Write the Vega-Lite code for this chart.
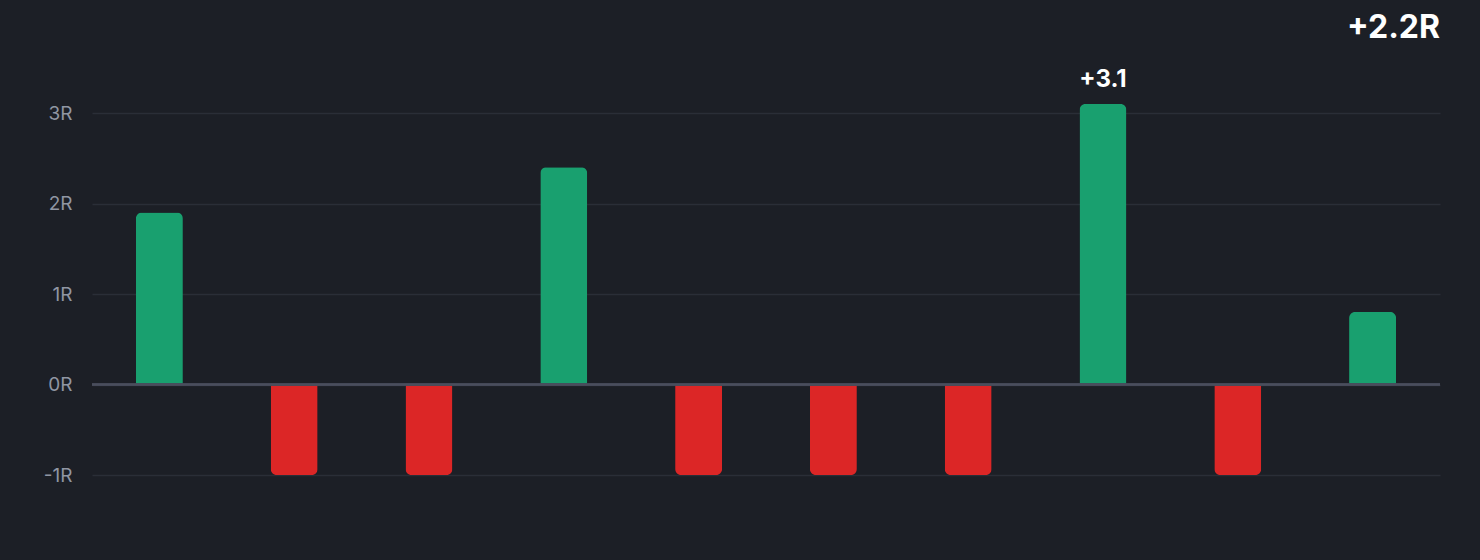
{
  "$schema": "https://vega.github.io/schema/vega-lite/v6.json",
  "width": 1348,
  "height": 371,
  "autosize": {"type": "none"},
  "padding": {"left": 92, "top": 104, "right": 40, "bottom": 85},
  "background": "#1c1f26",
  "title": {
    "text": "+2.2R",
    "anchor": "end",
    "frame": "group",
    "orient": "top",
    "offset": 23,
    "font": "Inter",
    "fontSize": 32,
    "fontWeight": "bold",
    "color": "#ffffff",
    "limit": 0
  },
  "config": {
    "view": {"stroke": null},
    "font": "Inter"
  },
  "data": {
    "values": [
      {"trade": 1, "r": 1.9},
      {"trade": 2, "r": -1},
      {"trade": 3, "r": -1},
      {"trade": 4, "r": 2.4},
      {"trade": 5, "r": -1},
      {"trade": 6, "r": -1},
      {"trade": 7, "r": -1},
      {"trade": 8, "r": 3.1},
      {"trade": 9, "r": -1},
      {"trade": 10, "r": 0.8}
    ]
  },
  "encoding": {
    "x": {
      "field": "trade",
      "type": "ordinal",
      "axis": null,
      "scale": {"paddingInner": 0, "paddingOuter": 0}
    },
    "y": {
      "field": "r",
      "type": "quantitative",
      "scale": {"domain": [-1, 3.1], "nice": false, "zero": true},
      "axis": {
        "title": null,
        "values": [-1, 0, 1, 2, 3],
        "labelExpr": "datum.value + 'R'",
        "domain": false,
        "ticks": false,
        "labelPadding": 20,
        "labelFont": "Inter",
        "labelFontSize": 19,
        "labelColor": "#9096a3",
        "gridColor": "#2a2e37",
        "gridWidth": 1.5
      }
    }
  },
  "layer": [
    {
      "transform": [{"filter": "datum.r > 0"}],
      "mark": {
        "type": "bar",
        "width": 47,
        "color": "#19a06f",
        "cornerRadiusTopLeft": 6,
        "cornerRadiusTopRight": 6
      }
    },
    {
      "transform": [{"filter": "datum.r < 0"}],
      "mark": {
        "type": "bar",
        "width": 47,
        "color": "#dc2626",
        "cornerRadiusBottomLeft": 6,
        "cornerRadiusBottomRight": 6
      }
    },
    {
      "mark": {"type": "rule", "color": "#4a4e5c", "strokeWidth": 1.5},
      "encoding": {
        "y": {"datum": 0, "type": "quantitative"},
        "x": {"value": 0},
        "x2": {"value": 1348}
      }
    },
    {
      "transform": [{"filter": "datum.r == 3.1"}],
      "mark": {
        "type": "text",
        "dy": -24,
        "font": "Inter",
        "fontSize": 24,
        "fontWeight": "bold",
        "color": "#ffffff"
      },
      "encoding": {
        "text": {"field": "r", "type": "quantitative", "format": "+.1f"}
      }
    }
  ]
}
